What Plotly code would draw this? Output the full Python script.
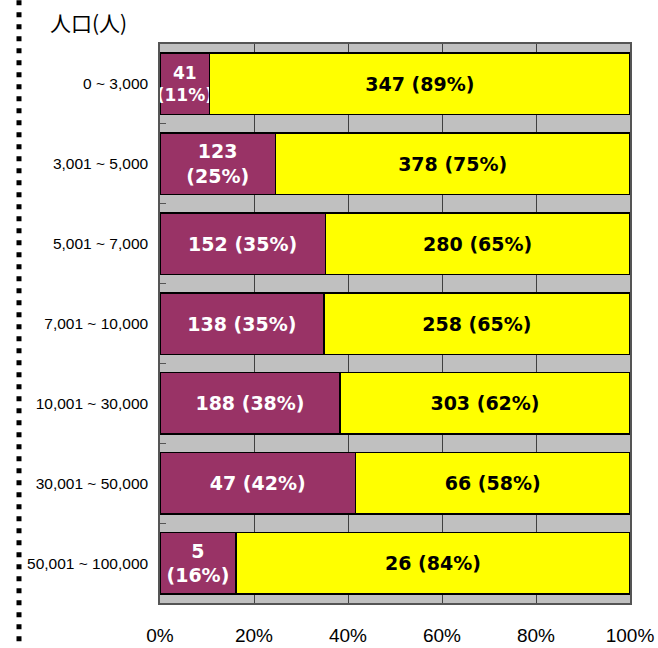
import plotly.graph_objects as go

# Population bands (top to bottom) and counts for the two groups
categories = ["0 ~ 3,000", "3,001 ~ 5,000", "5,001 ~ 7,000", "7,001 ~ 10,000",
              "10,001 ~ 30,000", "30,001 ~ 50,000", "50,001 ~ 100,000"]
group_a = [41, 123, 152, 138, 188, 47, 5]
group_b = [347, 378, 280, 258, 303, 66, 26]
x_ticks = [0, 20, 40, 60, 80, 100]

# Bands whose first segment is narrow get the label split over two lines
two_line = {"0 ~ 3,000", "3,001 ~ 5,000", "50,001 ~ 100,000"}

pct_a = [round(a * 100 / (a + b)) for a, b in zip(group_a, group_b)]
pct_b = [round(b * 100 / (a + b)) for a, b in zip(group_a, group_b)]

text_a = [f"{v}<br>({p}%)" if c in two_line else f"{v} ({p}%)"
          for c, v, p in zip(categories, group_a, pct_a)]
text_b = [f"{v} ({p}%)" for v, p in zip(group_b, pct_b)]

label_font = "DejaVu Sans"
# slightly smaller label where the first segment is very thin
size_a = [17 if p < 12 else 19 for p in pct_a]

fig = go.Figure()
fig.add_trace(go.Bar(
    y=categories, x=group_a, orientation="h",
    marker=dict(color="#993366", line=dict(color="#000000", width=1.5)),
    text=text_a, textposition="inside", insidetextanchor="middle", textangle=0,
    constraintext="none", cliponaxis=False,
    textfont=dict(family=label_font, size=size_a, color="white", weight="bold"),
    hoverinfo="skip",
))
fig.add_trace(go.Bar(
    y=categories, x=group_b, orientation="h",
    marker=dict(color="#FFFF00", line=dict(color="#000000", width=1.5)),
    text=text_b, textposition="inside", insidetextanchor="middle", textangle=0,
    constraintext="none", cliponaxis=False,
    textfont=dict(family=label_font, size=19, color="black", weight="bold"),
    hoverinfo="skip",
))

fig.update_layout(
    barmode="stack", barnorm="percent", bargap=0.23,
    width=658, height=648,
    margin=dict(l=160, r=28, t=44, b=45, autoexpand=False),
    paper_bgcolor="white", plot_bgcolor="#C0C0C0",
    showlegend=False,
    font=dict(family="Liberation Sans", color="#000000"),
    xaxis=dict(
        range=[0, 100], tickvals=x_ticks, ticktext=[f"{t}%" for t in x_ticks],
        showgrid=True, gridcolor="#404040", gridwidth=1,
        showline=True, linecolor="#555555", linewidth=1.5, mirror=True,
        ticks="", tickfont=dict(size=19, family="Liberation Sans"),
        ticklabelstandoff=14, zeroline=False, automargin=False,
    ),
    yaxis=dict(
        autorange="reversed", type="category",
        showgrid=False, showline=True, linecolor="#555555", linewidth=1.5,
        mirror=True, ticks="inside", tickson="boundaries", ticklen=6,
        tickcolor="#555555", tickfont=dict(size=15.5, family="Liberation Sans"),
        ticklabelstandoff=7, automargin=False,
    ),
    shapes=[dict(
        type="line", xref="paper", yref="paper",
        x0=-0.30, x1=-0.30, y0=-0.09, y1=1.09,
        line=dict(color="#000000", width=5, dash="5px,7px"),
    )],
    annotations=[dict(
        text="人口(人)", xref="paper", yref="paper",
        x=(48 - 160) / 470, y=1 + (44 - 22) / 559,
        xanchor="left", yanchor="middle", showarrow=False,
        font=dict(family="Noto Sans CJK JP", size=21, color="#000000"),
    )],
)

fig.write_html("out.html")
